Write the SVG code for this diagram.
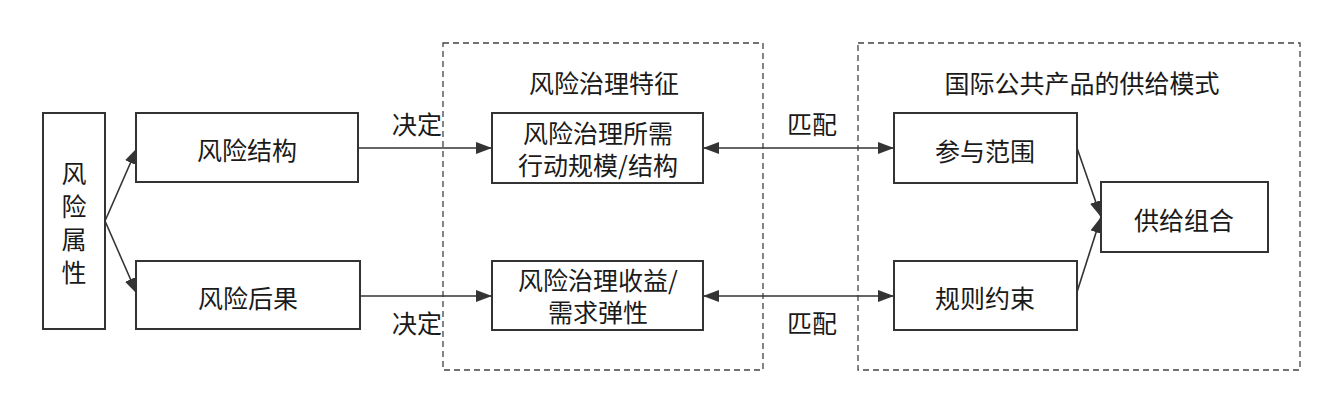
<svg xmlns="http://www.w3.org/2000/svg" width="1344" height="414" viewBox="0 0 1344 414">
<style>
.box{fill:#fff;stroke:#333;stroke-width:2}
.grp{fill:none;stroke:#444;stroke-width:1.3;stroke-dasharray:6 4}
.t{font-family:"Noto Sans CJK SC","Noto Sans",sans-serif;font-size:25px;fill:#1a1a1a;text-anchor:middle;dominant-baseline:central}
.m{font-family:"Noto Sans CJK SC","Noto Sans",sans-serif;font-size:25px;fill:#1a1a1a;text-anchor:middle}
.ln{stroke:#333;stroke-width:1.6;fill:none}
</style>
<defs>
<marker id="ah" viewBox="0 0 16 12" refX="16" refY="6" markerWidth="16" markerHeight="12" markerUnits="userSpaceOnUse" orient="auto-start-reverse">
<path d="M0,0 L16,6 L0,12 z" fill="#333"/>
</marker>
</defs>
<rect width="1344" height="414" fill="#fff"/>
<g id="group1"><rect class="grp" x="443" y="43" width="320" height="327"/><text class="t" x="604" y="82">风险治理特征</text></g>
<g id="group2"><rect class="grp" x="858" y="43" width="442" height="327"/><text class="t" x="1082" y="82">国际公共产品的供给模式</text></g>
<g id="connectors">
<line class="ln" x1="105" y1="221" x2="137" y2="148" marker-end="url(#ah)"/>
<line class="ln" x1="105" y1="221" x2="137" y2="294" marker-end="url(#ah)"/>
<line class="ln" x1="358" y1="148" x2="492" y2="148" marker-end="url(#ah)"/>
<line class="ln" x1="360" y1="296" x2="492" y2="296" marker-end="url(#ah)"/>
<line class="ln" x1="703" y1="148" x2="894" y2="148" marker-start="url(#ah)" marker-end="url(#ah)"/>
<line class="ln" x1="703" y1="296" x2="894" y2="296" marker-start="url(#ah)" marker-end="url(#ah)"/>
<line class="ln" x1="1077" y1="148" x2="1101" y2="217" marker-end="url(#ah)"/>
<line class="ln" x1="1077" y1="292" x2="1101" y2="217" marker-end="url(#ah)"/>
<text class="t" x="417" y="123">决定</text>
<text class="t" x="417" y="322">决定</text>
<text class="t" x="812" y="123">匹配</text>
<text class="t" x="812" y="322">匹配</text>
</g>
<g id="n1"><rect class="box" x="43" y="113" width="62" height="216"/>
<text class="m" x="74" y="183"><tspan x="74">风</tspan><tspan x="74" dy="33">险</tspan><tspan x="74" dy="33">属</tspan><tspan x="74" dy="33">性</tspan></text></g>
<g id="n2"><rect class="box" x="136" y="113" width="222" height="69"/><text class="t" x="247" y="149">风险结构</text></g>
<g id="n3"><rect class="box" x="136" y="261" width="224" height="68"/><text class="t" x="248" y="297">风险后果</text></g>
<g id="n4"><rect class="box" x="492" y="113" width="211" height="70"/><text class="m" x="598" y="143"><tspan x="598">风险治理所需</tspan><tspan x="598" dy="32">行动规模/结构</tspan></text></g>
<g id="n5"><rect class="box" x="492" y="261" width="211" height="69"/><text class="m" x="598" y="290"><tspan x="598">风险治理收益/</tspan><tspan x="598" dy="32">需求弹性</tspan></text></g>
<g id="n6"><rect class="box" x="894" y="113" width="183" height="70"/><text class="t" x="985" y="150">参与范围</text></g>
<g id="n7"><rect class="box" x="894" y="261" width="183" height="69"/><text class="t" x="985" y="297">规则约束</text></g>
<g id="n8"><rect class="box" x="1101" y="182" width="167" height="70"/><text class="t" x="1184" y="219">供给组合</text></g>
</svg>
